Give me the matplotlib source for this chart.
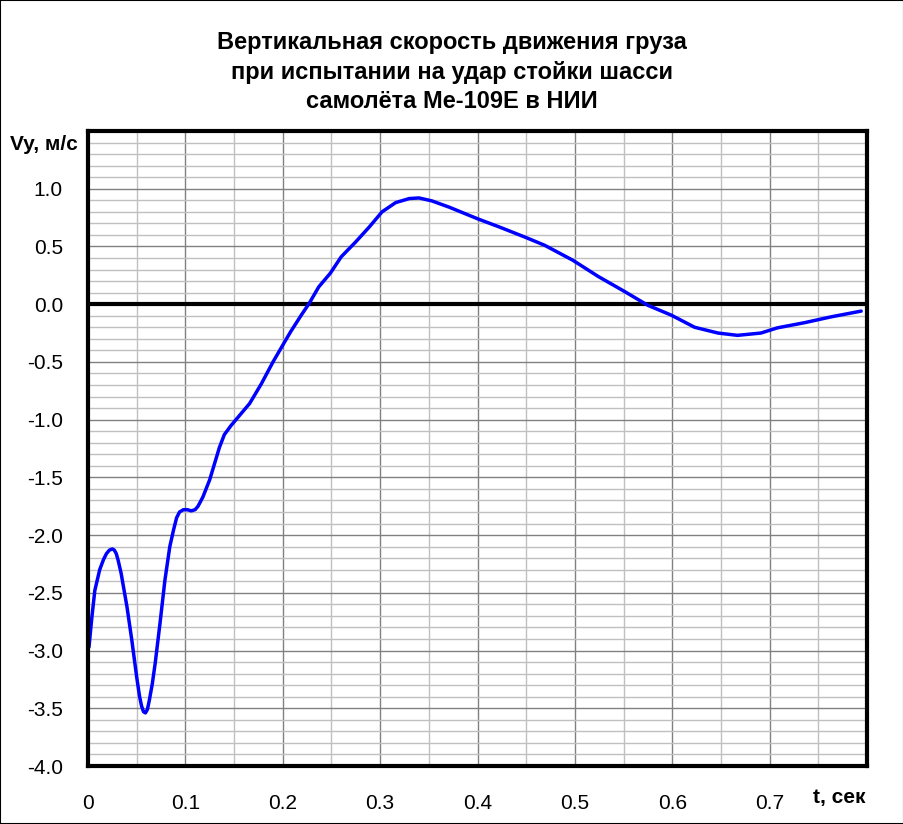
import matplotlib.pyplot as plt
from matplotlib.patches import Rectangle

plt.rcParams['font.family'] = ['Liberation Sans', 'DejaVu Sans']

# время, с
t = [0.001, 0.004, 0.007, 0.012, 0.016, 0.019, 0.022, 0.025, 0.027, 0.029,
     0.031, 0.034, 0.040, 0.045, 0.050, 0.053, 0.055, 0.057, 0.059, 0.061,
     0.063, 0.066, 0.069, 0.074, 0.079, 0.084, 0.088, 0.091, 0.094, 0.098,
     0.102, 0.106, 0.110, 0.113, 0.118, 0.125, 0.130, 0.135, 0.140, 0.147,
     0.156, 0.166, 0.178, 0.190, 0.200, 0.208, 0.219, 0.227, 0.237, 0.249,
     0.260, 0.275, 0.289, 0.302, 0.316, 0.330, 0.340, 0.353, 0.371, 0.400,
     0.422, 0.449, 0.469, 0.498, 0.524, 0.551, 0.575, 0.599, 0.623, 0.647,
     0.667, 0.691, 0.708, 0.736, 0.763, 0.794]
# вертикальная скорость, м/с
vy = [-2.97, -2.71, -2.48, -2.30, -2.21, -2.16, -2.13, -2.12, -2.13, -2.16,
      -2.22, -2.33, -2.62, -2.91, -3.23, -3.40, -3.48, -3.53, -3.54, -3.51,
      -3.43, -3.29, -3.11, -2.76, -2.39, -2.10, -1.95, -1.85, -1.80, -1.78,
      -1.78, -1.79, -1.78, -1.75, -1.67, -1.52, -1.38, -1.24, -1.13, -1.05,
      -0.96, -0.86, -0.69, -0.50, -0.355, -0.24, -0.095, 0.005, 0.15, 0.27,
      0.41, 0.54, 0.67, 0.80, 0.88, 0.915, 0.92, 0.895, 0.84, 0.74,
      0.67, 0.58, 0.51, 0.38, 0.24, 0.11, -0.01, -0.095, -0.20, -0.25,
      -0.27, -0.25, -0.205, -0.16, -0.11, -0.06]

xticks = [0, 0.1, 0.2, 0.3, 0.4, 0.5, 0.6, 0.7]
xlabels = ['0', '0.1', '0.2', '0.3', '0.4', '0.5', '0.6', '0.7']
yticks = [1.0, 0.5, 0.0, -0.5, -1.0, -1.5, -2.0, -2.5, -3.0, -3.5, -4.0]

fig = plt.figure(figsize=(9.04, 8.24), dpi=100)
ax = fig.add_axes([88/904, 58/824, 779/904, 635/824])

ax.set_xlim(0, 0.8)
ax.set_ylim(-4.0, 1.5)

# сетка
for i in range(1, 16):
    x = i * 0.05
    ax.axvline(x, color='#808080' if i % 2 == 0 else '#c0c0c0', lw=1, zorder=1)
for i in range(-39, 15):
    y = i * 0.1
    ax.axhline(y, color='#808080' if i % 5 == 0 else '#c0c0c0', lw=1, zorder=1)
ax.axhline(0, color='black', lw=3, zorder=2)

ax.plot(t, vy, color='#0000ff', lw=2.5, zorder=3,
        solid_joinstyle='round', solid_capstyle='round')

ax.set_xticks(xticks)
ax.set_xticklabels(xlabels, fontsize=15)
ax.set_yticks(yticks)
ax.set_yticklabels(['%.1f' % v for v in yticks], fontsize=15)
ax.tick_params(length=0, pad=18)
ax.tick_params(axis='x', pad=20)
for s in ax.spines.values():
    s.set_linewidth(3)
    s.set_zorder(5)

ax.text(0.771, -4.19, 't, сек', fontsize=15, fontweight='bold',
        ha='center', va='top')
fig.text(44/904, 1 - 145/824, 'Vy, м/с', fontsize=15, fontweight='bold',
         ha='center', va='center')

fig.text(0.5, 1 - 72/824,
         'Вертикальная скорость движения груза\nпри испытании на удар стойки шасси\nсамолёта Ме-109Е в НИИ',
         fontsize=17, fontweight='bold', ha='center', va='center',
         linespacing=1.38)

fig.patches.append(Rectangle((0, 0), 1, 1, transform=fig.transFigure,
                             fill=False, edgecolor='black', lw=1.5))

plt.savefig('out.png', dpi=100)
